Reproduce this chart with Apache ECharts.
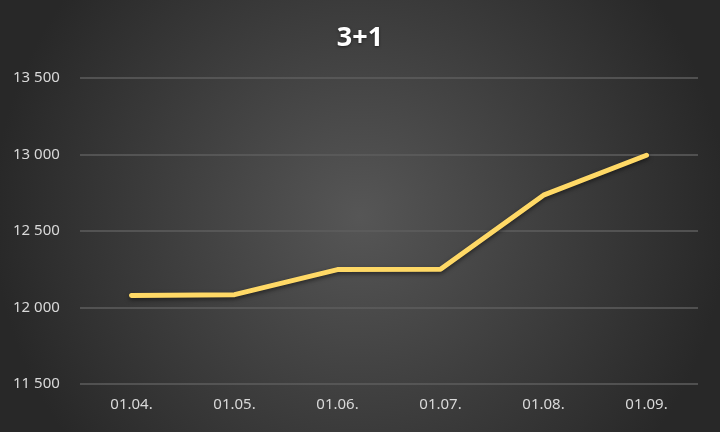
<!DOCTYPE html>
<html>
<head>
<meta charset="utf-8">
<script src="https://cdn.jsdelivr.net/npm/echarts@6/dist/echarts.min.js"></script>
<style>html,body{margin:0;padding:0;background:#333;}#c{width:720px;height:432px;}</style>
</head>
<body>
<div id="c"></div>
<script>
var categories = ['01.04.', '01.05.', '01.06.', '01.07.', '01.08.', '01.09.'];
var values = [12078, 12084, 12248, 12250, 12734, 12995];
var titleText = '3+1';
var yMin = 11500, yMax = 13500, yStep = 500;

var chart = echarts.init(document.getElementById('c'));
chart.setOption({
  backgroundColor: {
    type: 'radial', x: 0.5, y: 0.5, r: 0.85,
    colorStops: [{offset: 0, color: '#565656'}, {offset: 1, color: '#282828'}]
  },
  title: {
    text: titleText, left: 'center', top: 20,
    textStyle: {color: '#ffffff', fontSize: 27, fontWeight: 'bold', fontFamily: 'Open Sans',
      textShadowColor: 'rgba(0,0,0,0.5)', textShadowBlur: 3, textShadowOffsetY: 1}
  },
  grid: {left: 80, right: 22, top: 78, bottom: 48},
  xAxis: {
    type: 'category', data: categories, boundaryGap: true,
    axisLine: {show: false}, axisTick: {show: false},
    axisLabel: {color: '#d9d9d9', fontSize: 15, fontFamily: 'Noto Sans', margin: 13}
  },
  yAxis: {
    type: 'value', min: yMin, max: yMax, interval: yStep,
    axisLine: {show: false}, axisTick: {show: false},
    splitLine: {lineStyle: {color: '#5e5e5e', width: 1.5}},
    axisLabel: {color: '#d9d9d9', fontSize: 15, fontFamily: 'Noto Sans', align: 'left', margin: 67,
      formatter: function (v) { return String(v).replace(/\B(?=(\d{3})+(?!\d))/g, ' '); }}
  },
  series: [{
    type: 'line', data: values, symbol: 'none', smooth: false,
    lineStyle: {color: '#ffd966', width: 5, cap: 'round', join: 'round',
      shadowColor: 'rgba(0,0,0,0.5)', shadowBlur: 4, shadowOffsetY: 2}
  }],
  animation: false
});
</script>
</body>
</html>
